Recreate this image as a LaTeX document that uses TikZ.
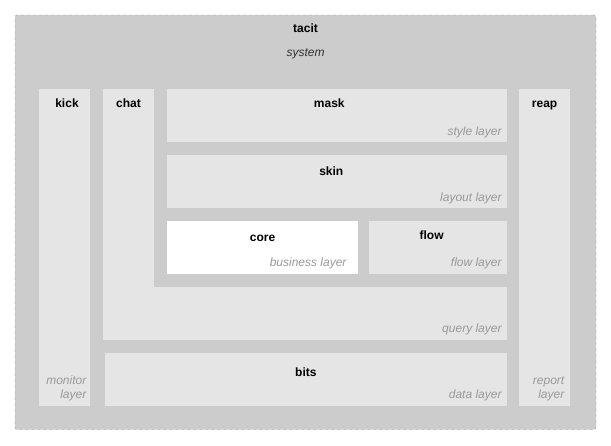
\documentclass[tikz,border=0pt]{standalone}
\usepackage{fontspec}
\setmainfont{Liberation Sans}
\usetikzlibrary{positioning}
\definecolor{backgray}{HTML}{CCCCCC}
\definecolor{layergray}{HTML}{E5E5E5}
\definecolor{notegray}{HTML}{999999}
\tikzset{
    layer/.style={fill=layergray, inner sep=0pt, outer sep=0pt, anchor=north west},
    title/.style={font=\fontsize{12}{14.5}\selectfont\bfseries, inner sep=0pt, anchor=base},
    note/.style={font=\fontsize{12}{14.5}\selectfont\itshape, text=notegray, inner sep=0pt, anchor=south east, align=right}
}
\begin{document}
\begin{tikzpicture}[x=1pt, y=-1pt]
    \useasboundingbox (0,0) rectangle (611,445);

    % System frame
    \node[layer, fill=backgray, draw=notegray, dashed, rounded corners=2pt, minimum width=581pt, minimum height=414.5pt] (tacit) at (15,15) {};
    \node[title] (tacit-t) at ([yshift=-17.7pt]tacit.north) {tacit};
    \node[title, font=\fontsize{12}{14.5}\selectfont\itshape, text=black!80] (tacit-n) at ([yshift=-41pt]tacit.north) {system};

    % Monitor layer (left column)
    \node[layer, minimum width=51pt, minimum height=316.7pt] (kick) at (39,89) {};
    \node[title] (kick-t) at ([xshift=2.5pt, yshift=-18.3pt]kick.north) {kick};
    \node[note] (kick-n) at ([xshift=-3.5pt, yshift=4.5pt]kick.south east) {monitor\\layer};

    % Query layer (L shape: column + bottom bar)
    \node[layer, minimum width=51.6pt, minimum height=251.3pt] (chat) at (102.7,89) {};
    \node[layer, minimum width=404.6pt, minimum height=53.3pt] (query) at (102.7,286.7) {};
    \node[title] (chat-t) at ([yshift=-18.3pt]chat.north) {chat};
    \node[note] (query-n) at ([xshift=-5.5pt, yshift=4.5pt]query.south east) {query layer};

    % Style layer
    \node[layer, minimum width=340pt, minimum height=53pt] (mask) at (167.3,89) {};
    \node[title] (mask-t) at ([xshift=-8pt, yshift=-18.3pt]mask.north) {mask};
    \node[note] (mask-n) at ([xshift=-5.5pt, yshift=3.5pt]mask.south east) {style layer};

    % Layout layer
    \node[layer, minimum width=340pt, minimum height=52.7pt] (skin) at (167.3,155) {};
    \node[title] (skin-t) at ([xshift=-6pt, yshift=-20.7pt]skin.north) {skin};
    \node[note] (skin-n) at ([xshift=-5.5pt, yshift=3.5pt]skin.south east) {layout layer};

    % Business layer
    \node[layer, fill=white, minimum width=190.4pt, minimum height=52.7pt] (core) at (167.3,221) {};
    \node[title] (core-t) at ([yshift=-20pt]core.north) {core};
    \node[note] (core-n) at ([xshift=-11pt, yshift=4.5pt]core.south east) {business layer};

    % Flow layer
    \node[layer, minimum width=138.3pt, minimum height=52.7pt] (flow) at (369,221) {};
    \node[title] (flow-t) at ([xshift=-6.5pt, yshift=-18.3pt]flow.north) {flow};
    \node[note] (flow-n) at ([xshift=-5.5pt, yshift=4.5pt]flow.south east) {flow layer};

    % Data layer
    \node[layer, minimum width=402.8pt, minimum height=52.7pt] (bits) at (104.5,353) {};
    \node[title] (bits-t) at ([yshift=-23pt]bits.north) {bits};
    \node[note] (bits-n) at ([xshift=-5.5pt, yshift=4.5pt]bits.south east) {data layer};

    % Report layer (right column)
    \node[layer, minimum width=50.7pt, minimum height=316.7pt] (reap) at (519.3,89) {};
    \node[title] (reap-t) at ([yshift=-18.3pt]reap.north) {reap};
    \node[note] (reap-n) at ([xshift=-5.5pt, yshift=4.5pt]reap.south east) {report\\layer};
\end{tikzpicture}
\end{document}
